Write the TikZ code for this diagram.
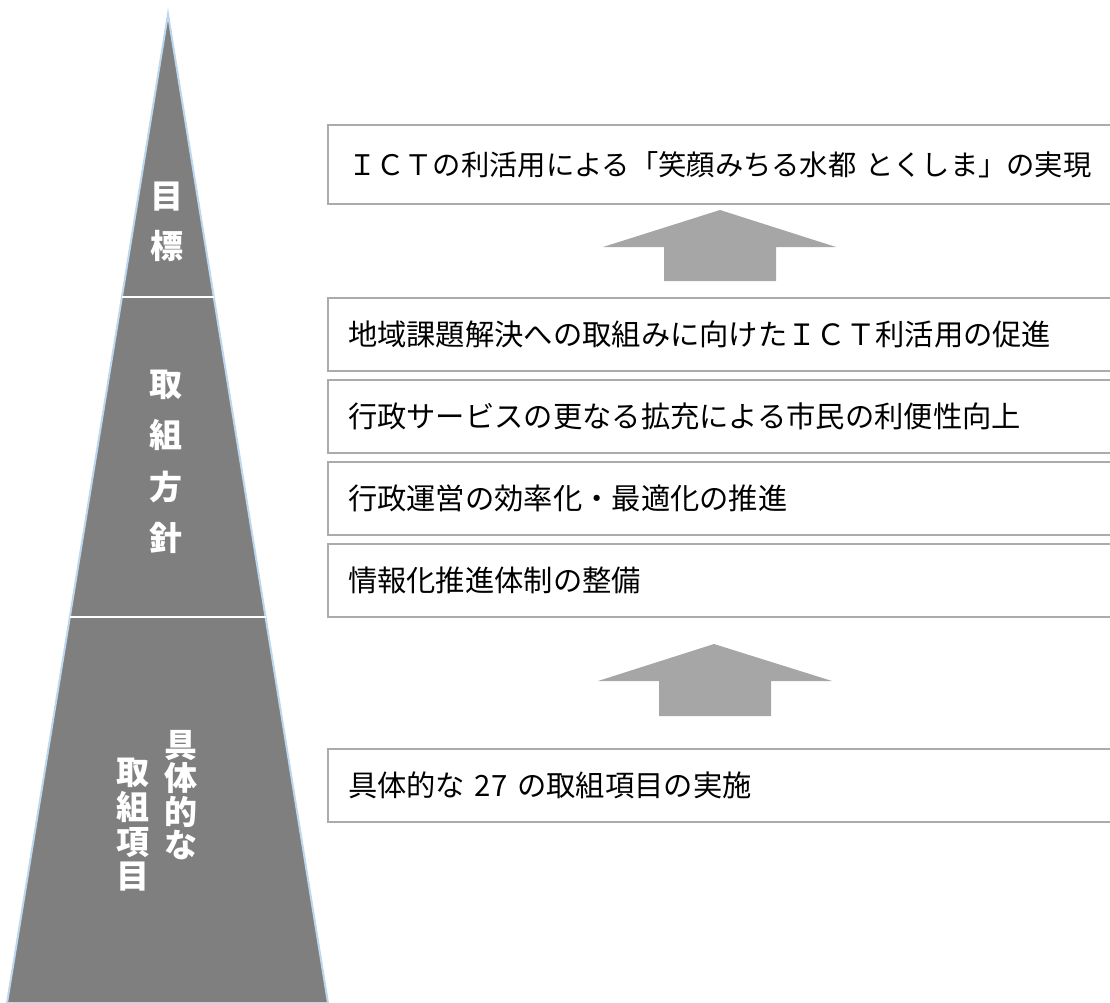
\documentclass[tikz,border=0pt]{standalone}
\usepackage{fontspec}
\setmainfont{Noto Sans CJK JP}
\usepackage{tikz}
\usetikzlibrary{positioning}
\definecolor{pyramidgray}{HTML}{7F7F7F}
\definecolor{edgeblue}{HTML}{BDD7EE}
\definecolor{boxgray}{HTML}{ABABAB}
\definecolor{arrowgray}{HTML}{A6A6A6}
\tikzset {
  x=1pt, y=-1pt,
  node distance={7pt},
  % framed boxes on the right
  item/.style = {draw=boxgray, line width=2pt, minimum height=73pt, text width=770pt,
    inner xsep=20pt, align=left, anchor=north west, font=\fontsize{29.3}{29.3}\selectfont},
  % white labels inside the pyramid
  level/.style = {text=white, align=center, inner sep=0pt},
  divider/.style = {white, line width=2pt},
  uparrow/.style = {fill=arrowgray},
}
\begin{document}
\begin{tikzpicture}
      \useasboundingbox (0,0) rectangle (1110,1003);
      \clip (0,0) rectangle (1110,1003);

      % pyramid
      \coordinate (apex) at (168,14);
      \coordinate (bl) at (7,1003);
      \coordinate (br) at (328,1003);
      \filldraw[fill=pyramidgray, draw=edgeblue, line width=2pt] (apex) -- (bl) -- (br) -- cycle;
      \coordinate (d1l) at (122,297);
      \coordinate (d1r) at (214,297);
      \coordinate (d2l) at (70,617);
      \coordinate (d2r) at (266,617);
      \draw[divider] (d1l) -- (d1r);
      \draw[divider] (d2l) -- (d2r);

      \node[level, font=\bfseries\fontsize{33}{50}\selectfont] (goallbl) at (167,222) {目\\標};
      \node[level, font=\bfseries\fontsize{33}{51.5}\selectfont] (policylbl) at (166,462) {取\\組\\方\\針};
      \node[level, font=\bfseries\fontsize{33}{33.5}\selectfont] (itemlbl1) at (181,795) {具\\体\\的\\な};
      \node[level, font=\bfseries\fontsize{33}{34.7}\selectfont] (itemlbl2) at (133,825) {取\\組\\項\\目};

      % boxes
      \node[item, minimum height=79pt, font=\fontsize{28.3}{28.3}\selectfont] (goal) at (327,124) {ＩＣＴの利活用による「笑顔みちる水都 とくしま」の実現};
      \node[item] (pol1) at (327,297) {地域課題解決への取組みに向けたＩＣＴ利活用の促進};
      \node[item] (pol2) [below=of pol1] {行政サービスの更なる拡充による市民の利便性向上};
      \node[item] (pol3) [below=of pol2] {行政運営の効率化・最適化の推進};
      \node[item] (pol4) [below=of pol3] {情報化推進体制の整備};
      \node[item] (work) at (327,748) {具体的な 27 の取組項目の実施};

      % block arrows
      \fill[uparrow] (720,210) -- (836,247) -- (776,247) -- (776,281) -- (664,281) -- (664,247) -- (603,247) -- cycle;
      \fill[uparrow] (714,644) -- (832,681) -- (771,681) -- (771,716) -- (659,716) -- (659,681) -- (598,681) -- cycle;
\end{tikzpicture}
\end{document}
